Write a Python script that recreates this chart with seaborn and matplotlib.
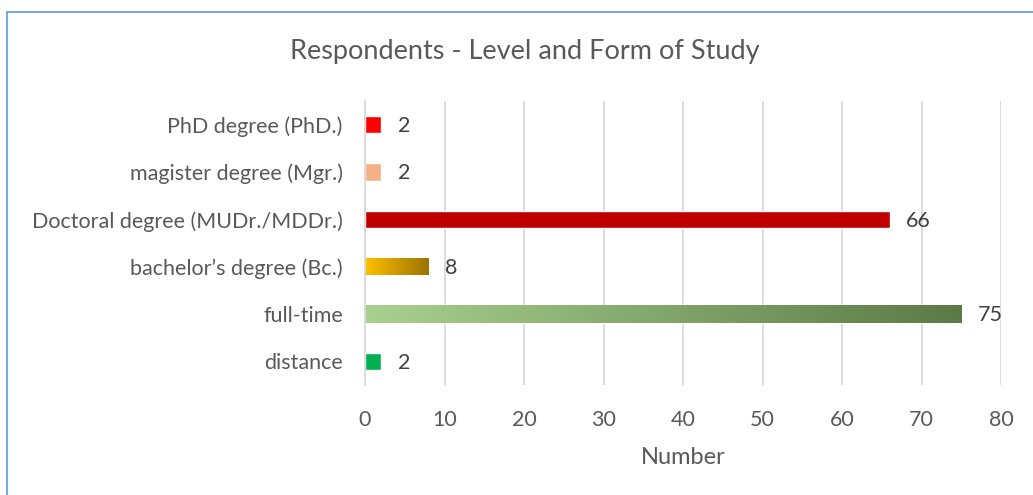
import numpy as np
import pandas as pd
import matplotlib
matplotlib.use("Agg")
import matplotlib.pyplot as plt
from matplotlib.colors import LinearSegmentedColormap
from matplotlib.patches import Rectangle
import seaborn as sns

categories = [
    "PhD degree (PhD.)",
    "magister degree (Mgr.)",
    "Doctoral degree (MUDr./MDDr.)",
    "bachelor\u2019s degree (Bc.)",
    "full-time",
    "distance",
]
counts = [2, 2, 66, 8, 75, 2]
bar_colors = ["#FF0000", "#F4B183", "#C00000", "#FFC000", "#A9D18E", "#00B050"]
# horizontal gradients (start, end) for selected bars
gradients = {
    "bachelor\u2019s degree (Bc.)": ("#FFC000", "#9C7200"),
    "full-time": ("#A9D18E", "#5C7A48"),
}
x_ticks = [0, 10, 20, 30, 40, 50, 60, 70, 80]

sns.set_theme(style="white")
plt.rcParams["font.family"] = ["Lato", "DejaVu Sans"]

text_color = "#595959"
df = pd.DataFrame({"category": categories, "count": counts})

fig = plt.figure(figsize=(10.33, 4.95), dpi=100)
ax = fig.add_axes([365 / 1033, 1 - 385 / 495, (1001 - 365) / 1033, (385 - 101) / 495])

sns.barplot(
    data=df, y="category", x="count", hue="category",
    palette=bar_colors, order=categories, hue_order=categories,
    orient="h", width=0.36, legend=False, ax=ax, saturation=1,
)

ax.set_xlim(0, 80)
ax.set_ylim(len(categories) - 0.5, -0.5)
ax.set_xticks(x_ticks)
ax.set_xticklabels([str(t) for t in x_ticks])
ax.grid(axis="x", color="#D9D9D9", linewidth=1.3)
ax.set_axisbelow(True)
for s in ["top", "right", "bottom"]:
    ax.spines[s].set_visible(False)
ax.spines["left"].set_color("#D9D9D9")
ax.spines["left"].set_linewidth(1.3)
ax.tick_params(axis="both", length=0, colors=text_color, labelsize=15.5)
ax.tick_params(axis="y", pad=16)
ax.tick_params(axis="x", pad=18)
ax.set_ylabel("")
ax.set_xlabel("Number", color=text_color, fontsize=17, labelpad=12)

# gradient fills clipped to their bars
for patch, cat in zip(ax.patches, categories):
    if cat in gradients:
        c0, c1 = gradients[cat]
        cmap = LinearSegmentedColormap.from_list(cat, [c0, c1])
        x0, y0 = patch.get_x(), patch.get_y()
        w, h = patch.get_width(), patch.get_height()
        img = ax.imshow(
            np.linspace(0, 1, 256).reshape(1, -1), cmap=cmap, aspect="auto",
            extent=[x0, x0 + w, y0 + h, y0], zorder=patch.get_zorder() + 0.1,
            interpolation="bicubic",
        )
        img.set_clip_path(patch)
ax.set_xlim(0, 80)
ax.set_ylim(len(categories) - 0.5, -0.5)

# value labels
for i, v in enumerate(counts):
    ax.annotate(str(v), xy=(v, i), xytext=(12, -1), textcoords="offset points",
                va="center", ha="left", fontsize=15.5, color="#404040")

fig.text(525 / 1033, 1 - 52 / 495, "Respondents - Level and Form of Study",
         ha="center", va="center", fontsize=19.5, color=text_color)

# chart frame
fig.patches.append(Rectangle((7 / 1033, -0.1), 1.2, 1 - 11.5 / 495 + 0.1,
                             transform=fig.transFigure, fill=False,
                             edgecolor="#5B9BD5", linewidth=1.2))

fig.savefig("out.png", dpi=100, facecolor="white")
